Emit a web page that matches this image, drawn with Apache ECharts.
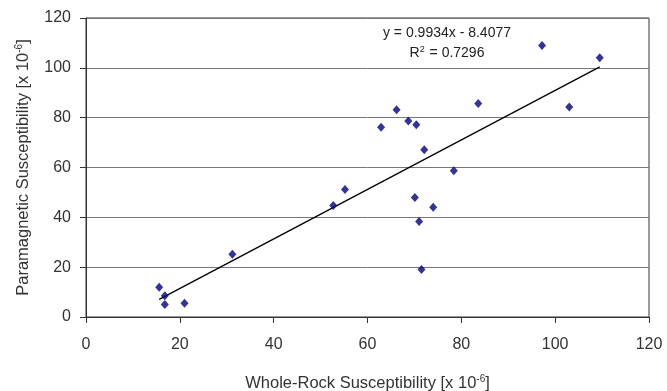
<!DOCTYPE html>
<html>
<head>
<meta charset="utf-8">
<script src="https://cdn.jsdelivr.net/npm/echarts@6/dist/echarts.min.js"></script>
<style>
  html, body { margin: 0; padding: 0; background: #fff; }
  #chart { width: 667px; height: 391px; }
</style>
</head>
<body>
<div id="chart"></div>
<script>
// whole-rock vs paramagnetic susceptibility (x 10^-6)
const wholeRock = [15.6, 16.8, 16.8, 21.0, 31.2, 52.7, 55.2, 62.9, 66.2, 68.7, 70.1,
  70.4, 71.0, 71.5, 72.1, 74.0, 78.4, 83.6, 97.2, 103.0, 109.5];
const paramagnetic = [11.9, 8.5, 5.0, 5.5, 25.2, 44.7, 51.2, 76.2, 83.2, 78.7, 48.0,
  77.2, 38.3, 19.1, 67.1, 44.0, 58.7, 85.7, 109.0, 84.3, 104.0];

// linear trend line end points
const trendX = [15.6, 109.5];
const trendY = [7.1, 100.4];

const xTicks = [0, 20, 40, 60, 80, 100, 120];
const yTicks = [0, 20, 40, 60, 80, 100, 120];

const fontFamily = 'Liberation Sans, Arial, sans-serif';

const chart = echarts.init(document.getElementById('chart'));

const titleStyle = {
  fontFamily,
  fontSize: 16.5,
  color: '#333',
  rich: {
    sup: { fontFamily, fontSize: 10, verticalAlign: 'top', color: '#333', padding: [0, 0, 8, 0] },
  },
};

const option = {
  animation: false,
  backgroundColor: '#fff',
  grid: {
    left: 86,
    right: 18,
    top: 18,
    bottom: 74,
    outerBoundsMode: 'none',
    show: true,
    borderColor: '#333',
    borderWidth: 1,
  },
  xAxis: {
    type: 'value',
    min: xTicks[0],
    max: xTicks[xTicks.length - 1],
    interval: xTicks[1] - xTicks[0],
    name: 'Whole-Rock Susceptibility [x 10{sup|-6}]',
    nameLocation: 'middle',
    nameGap: 57,
    nameTextStyle: titleStyle,
    axisLine: { show: true, lineStyle: { color: '#333', width: 1 } },
    axisTick: { show: true, length: 6, lineStyle: { color: '#333' } },
    axisLabel: { fontFamily, fontSize: 16, color: '#333', margin: 20 },
    splitLine: { show: false },
  },
  yAxis: {
    type: 'value',
    min: yTicks[0],
    max: yTicks[yTicks.length - 1],
    interval: yTicks[1] - yTicks[0],
    name: 'Paramagnetic Susceptibility [x 10{sup|-6}]',
    nameLocation: 'middle',
    nameRotate: 90,
    nameGap: 54,
    nameTextStyle: titleStyle,
    axisLine: { show: true, lineStyle: { color: '#333', width: 1 } },
    axisTick: { show: true, length: 6, lineStyle: { color: '#333' } },
    axisLabel: { fontFamily, fontSize: 16, color: '#333', margin: 15 },
    splitLine: { show: true, lineStyle: { color: '#777', width: 1 } },
  },
  graphic: [
    {
      type: 'text',
      x: 447,
      y: 33,
      style: {
        text: 'y = 0.9934x - 8.4077',
        fontFamily,
        fontSize: 14,
        fill: '#222',
        align: 'center',
        verticalAlign: 'middle',
      },
    },
    {
      type: 'text',
      x: 447,
      y: 53,
      style: {
        text: 'R{sup|2} = 0.7296',
        fontFamily,
        fontSize: 14,
        fill: '#222',
        align: 'center',
        verticalAlign: 'middle',
        rich: {
          sup: { fontFamily, fontSize: 9, verticalAlign: 'top', fill: '#222', padding: [0, 1, 6, 0] },
        },
      },
    },
  ],
  series: [
    {
      name: 'trend',
      type: 'line',
      data: trendX.map((x, i) => [x, trendY[i]]),
      symbol: 'none',
      lineStyle: { color: '#000', width: 1.3 },
      z: 2,
    },
    {
      name: 'samples',
      type: 'scatter',
      data: wholeRock.map((x, i) => [x, paramagnetic[i]]),
      symbol: 'diamond',
      symbolSize: [8, 9],
      itemStyle: { color: '#000080' },
      z: 3,
    },
  ],
};

chart.setOption(option);
</script>
</body>
</html>
